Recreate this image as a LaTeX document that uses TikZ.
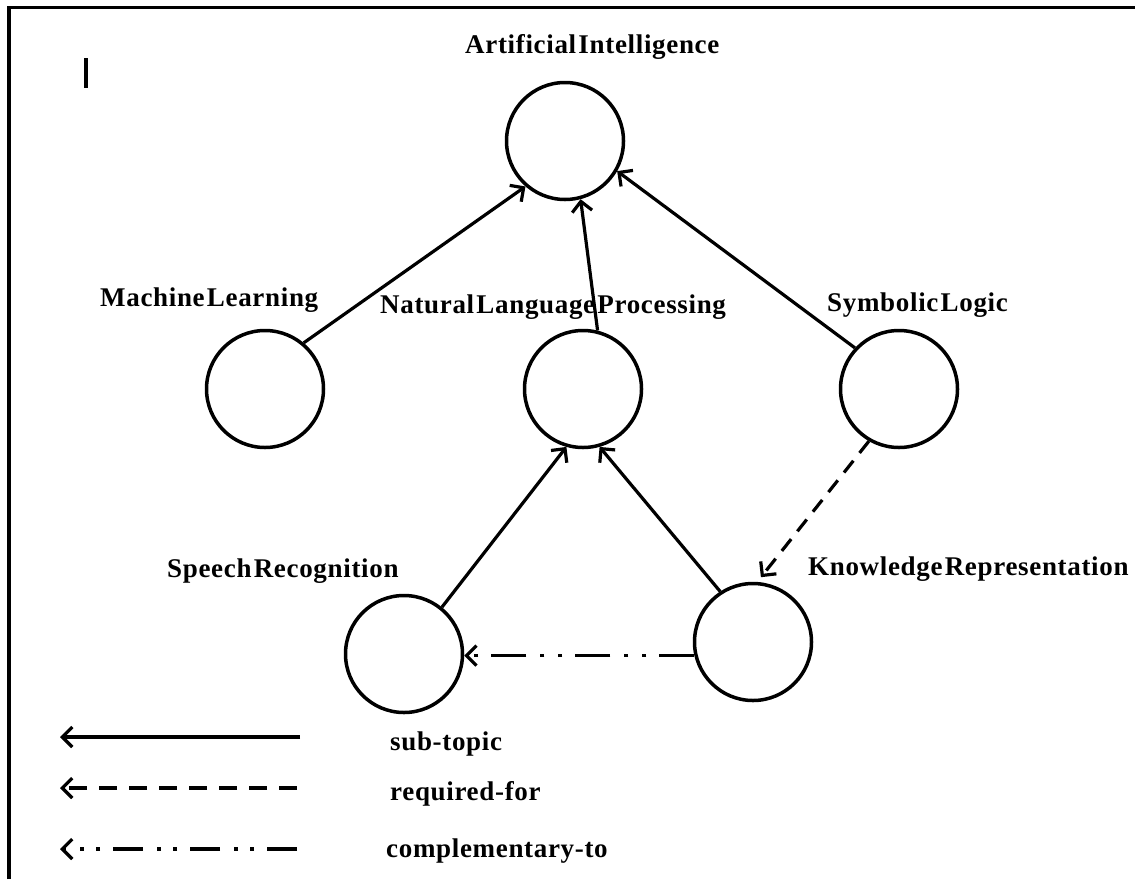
\documentclass[tikz,border=0pt]{standalone}
\usepackage{fontspec}
\setmainfont{Liberation Serif}[WordSpace={0.3},LetterSpace=2.5]
\usetikzlibrary{arrows.meta}
\begin{document}
\begin{tikzpicture}[x=1pt,y=-1pt,
  topic/.style={circle,draw,line width=3.5pt,minimum size=117pt,inner sep=0pt},
  lbl/.style={font=\fontsize{27}{30}\selectfont\bfseries,anchor=base west,inner sep=0pt},
  tip/.style={-{Straight Barb[length=10pt,width=20pt]}},
  sub/.style={line width=3.2pt,tip},
  req/.style={line width=3.2pt,tip,dash pattern=on 15pt off 10pt},
  comp/.style={line width=3.2pt,tip,dash pattern=on 35pt off 13pt on 4pt off 14pt on 4pt off 14pt}]
\useasboundingbox (0,0) rectangle (1135,879);
% frame (only top and left visible)
\draw[line width=3.5pt] (9,879) -- (9,7.5) -- (1135,7.5);
\draw[line width=4pt] (86,58) -- (86,88);
% topics
\node[topic] (ai)  at (565,141) {};
\node[topic] (ml)  at (265,389) {};
\node[topic] (nlp) at (583,389) {};
\node[topic] (sl)  at (899,389) {};
\node[topic] (sr)  at (404,654) {};
\node[topic] (kr)  at (753,642) {};
% labels
\node[lbl] (ait)  at (465,53)  {Artificial Intelligence};
\node[lbl] (mlt)  at (100,306) {Machine Learning};
\node[lbl] (nlpt) at (380,313) {Natural Language Processing};
\node[lbl] (slt)  at (827,311) {Symbolic Logic};
\node[lbl] (srt)  at (167,577) {Speech Recognition};
\node[lbl] (krt)  at (808,575) {Knowledge Representation};
% connectors
\draw[sub] (ml.50)  -- (ai.229);
\draw[sub] (nlp.76) -- (ai.285);
\draw[sub] (sl.137) -- (ai.330);
\draw[sub] (sr.51)  -- (nlp.254);
\draw[sub] (kr.123) -- (nlp.286);
\draw[req,shorten >=6pt] (sl.240) -- (kr.86);
\draw[comp] (kr.193) -- (kr.193 -| sr.east);
% legend
\coordinate (a1) at (300,737); \coordinate (b1) at (60,737);
\coordinate (a2) at (297,788); \coordinate (b2) at (60,788);
\coordinate (a3) at (297,849); \coordinate (b3) at (60,849);
\draw[sub]  (a1) -- (b1);
\draw[req,dash pattern=on 18pt off 12pt]  (a2) -- (b2);
\draw[comp,dash pattern=on 30pt off 13pt on 4pt off 12pt on 4pt off 14pt] (a3) -- (b3);
\node[lbl] (t1) at (390,750) {sub-topic};
\node[lbl] (t2) at (390,800) {required-for};
\node[lbl] (t3) at (386,857) {complementary-to};
\end{tikzpicture}
\end{document}
